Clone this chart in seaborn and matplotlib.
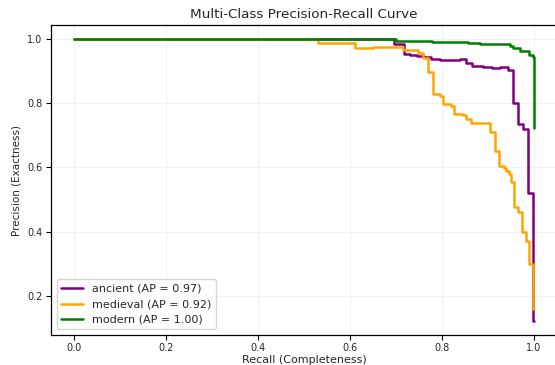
import matplotlib
matplotlib.use('Agg')
import matplotlib.pyplot as plt
import seaborn as sns
import pandas as pd

# Step points (recall, precision), drawn with steps-post
ancient_recall = [0.000, 0.696, 0.717, 0.730, 0.745, 0.760, 0.775, 0.796, 0.820, 0.840,
                  0.852, 0.865, 0.875, 0.890, 0.909, 0.925, 0.943, 0.954, 0.965, 0.977,
                  0.987, 0.998, 1.000]
ancient_precision = [1.000, 0.984, 0.955, 0.951, 0.947, 0.943, 0.939, 0.934, 0.936, 0.938,
                     0.926, 0.917, 0.915, 0.912, 0.910, 0.912, 0.905, 0.801, 0.737, 0.721,
                     0.519, 0.122, 0.122]

medieval_recall = [0.000, 0.530, 0.611, 0.650, 0.690, 0.715, 0.748, 0.759, 0.770, 0.780,
                   0.796, 0.802, 0.820, 0.826, 0.845, 0.852, 0.863, 0.905, 0.915, 0.923,
                   0.934, 0.940, 0.945, 0.950, 0.956, 0.965, 0.973, 0.983, 0.989, 0.998,
                   1.000]
medieval_precision = [1.000, 0.987, 0.973, 0.974, 0.976, 0.966, 0.958, 0.940, 0.898, 0.830,
                      0.824, 0.797, 0.790, 0.768, 0.762, 0.752, 0.738, 0.712, 0.650, 0.604,
                      0.597, 0.590, 0.580, 0.554, 0.478, 0.461, 0.399, 0.372, 0.300, 0.158,
                      0.158]

modern_recall = [0.000, 0.700, 0.778, 0.857, 0.883, 0.948, 0.955, 0.970, 0.990, 0.998, 1.000]
modern_precision = [1.000, 0.995, 0.991, 0.988, 0.984, 0.978, 0.971, 0.963, 0.950, 0.944, 0.722]

classes = ['ancient', 'medieval', 'modern']
ap_scores = [0.97, 0.92, 1.00]
colors = ['purple', 'orange', 'green']

curves = [(ancient_recall, ancient_precision),
          (medieval_recall, medieval_precision),
          (modern_recall, modern_precision)]

rows = []
labels = []
for name, ap, (rec, prec) in zip(classes, ap_scores, curves):
    label = '{0} (AP = {1:.2f})'.format(name, ap)
    labels.append(label)
    for r, p in zip(rec, prec):
        rows.append({'recall': r, 'precision': p, 'cls': label})
df = pd.DataFrame(rows)

sns.set_style('ticks')
plt.rcParams['font.family'] = ['DejaVu Sans']

fig = plt.figure(figsize=(5.55, 3.65), dpi=100)
ax = fig.add_axes([51 / 555, 30 / 365, 506 / 555, 310 / 365])

sns.lineplot(data=df, x='recall', y='precision', hue='cls', hue_order=labels,
             palette=dict(zip(labels, colors)), estimator=None, sort=False,
             drawstyle='steps-post', linewidth=1.8, ax=ax)

ax.grid(True, alpha=0.25)
for s in ax.spines.values():
    s.set_color('black')
    s.set_linewidth(0.9)
ax.tick_params(labelsize=7, length=3.5, pad=2.5, color='black')
ax.set_xlabel('Recall (Completeness)', fontsize=8, labelpad=1)
ax.set_ylabel('Precision (Exactness)', fontsize=7.5, labelpad=4)
ax.set_title('Multi-Class Precision-Recall Curve', fontsize=9.7, pad=5)
ax.set_xticks([0.0, 0.2, 0.4, 0.6, 0.8, 1.0])
ax.set_yticks([0.2, 0.4, 0.6, 0.8, 1.0])
ax.legend(loc='lower left', fontsize=8, title=None, frameon=True)

fig.savefig('out.png', dpi=100)
